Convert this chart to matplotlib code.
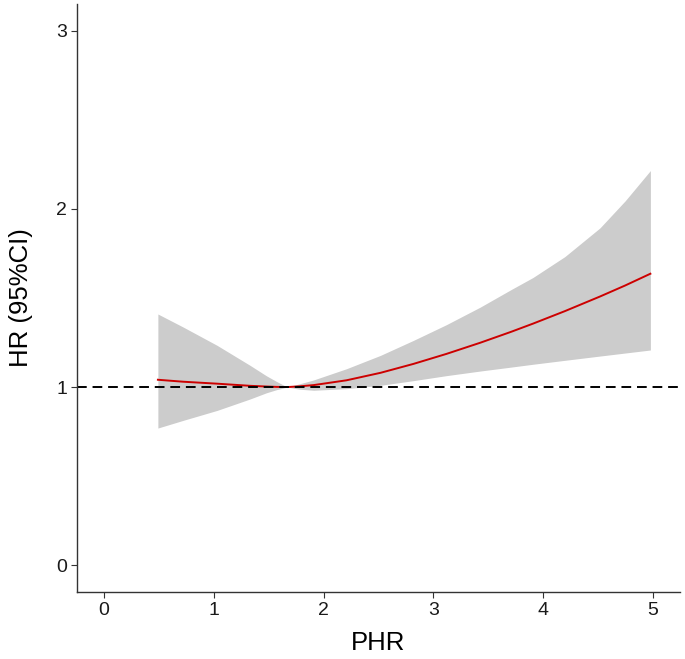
import numpy as np
import matplotlib
matplotlib.use("Agg")
import matplotlib.pyplot as plt

plt.rcParams['font.family'] = ['Liberation Sans', 'DejaVu Sans']

# values
phr = [0.49, 0.72, 1.03, 1.33, 1.48, 1.57, 1.67, 1.78, 1.91, 2.21, 2.52,
       2.82, 3.12, 3.43, 3.71, 3.91, 4.20, 4.52, 4.75, 4.98]
hr = [1.041, 1.030, 1.019, 1.007, 1.003, 1.001, 1.0, 1.004, 1.011, 1.038, 1.080,
      1.130, 1.186, 1.249, 1.310, 1.356, 1.426, 1.508, 1.570, 1.636]
hr_lower = [0.770, 0.813, 0.869, 0.933, 0.968, 0.985, 1.0, 0.988, 0.982, 0.991, 1.010,
            1.036, 1.064, 1.090, 1.112, 1.128, 1.150, 1.174, 1.191, 1.208]
hr_upper = [1.410, 1.337, 1.234, 1.122, 1.063, 1.032, 1.0, 1.018, 1.040, 1.103, 1.178,
            1.262, 1.350, 1.449, 1.547, 1.615, 1.732, 1.893, 2.045, 2.215]

x_ticks = [0, 1, 2, 3, 4, 5]
y_ticks = [0, 1, 2, 3]

fig = plt.figure(figsize=(6.85, 6.59), dpi=100)
ax = fig.add_axes([0.112, 0.1017, 0.8807, 0.8923])

ax.fill_between(phr, hr_lower, hr_upper, color='#cccccc', linewidth=0)
ax.plot(phr, hr, color='#cc0000', linewidth=1.4)
ax.axhline(1, color='black', linewidth=1.4, linestyle=(0, (5, 3)))

ax.set_xlim(-0.25, 5.25)
ax.set_ylim(-0.15, 3.15)
ax.set_xticks(x_ticks)
ax.set_yticks(y_ticks)

for side in ['top', 'right']:
    ax.spines[side].set_visible(False)
for side in ['left', 'bottom']:
    ax.spines[side].set_color('#333333')
    ax.spines[side].set_linewidth(1.0)

ax.tick_params(axis='both', length=4, width=0.8, color='#333333',
               labelsize=14, labelcolor='#1a1a1a', pad=3)

ax.set_xlabel('PHR', fontsize=18.5, labelpad=9)
ax.set_ylabel('HR (95%CI)', fontsize=18.5, labelpad=17)

fig.savefig('out.png', dpi=100)
